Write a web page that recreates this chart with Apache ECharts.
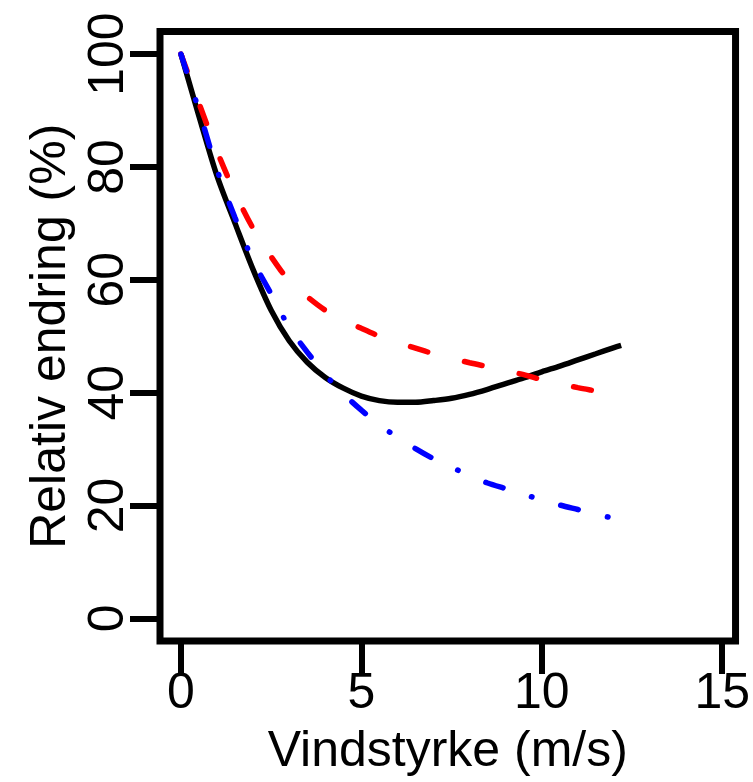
<!DOCTYPE html>
<html><head><meta charset="utf-8">
<script src="https://cdn.jsdelivr.net/npm/echarts@6/dist/echarts.min.js"></script>
<style>html,body{margin:0;padding:0;background:#fff}#c{width:753px;height:782px}</style>
</head><body><div id="c"></div>
<script>
// wind speed (m/s) and relative change (%)
const xBlack = [0,0.5,1,1.5,2,2.5,3,3.5,4,4.5,5,5.5,6,6.5,7,7.5,8,8.5,9,9.5,10,10.5,11,11.5,12,12.2];
const yBlack = [100,89,78.4,70,61.8,54.6,49.2,45.4,42.7,40.8,39.4,38.6,38.3,38.3,38.6,39.0,39.7,40.6,41.6,42.6,43.7,44.7,45.8,46.9,48.0,48.4];
const xRed = [0,0.5,1,1.5,2,2.5,3,3.5,4,4.5,5,5.5,6,6.5,7,7.5,8,8.5,9,9.5,10,10.5,11,11.5,12];
const yRed = [100,91.3,82.8,75.4,69.1,64.1,59.8,57.0,54.6,52.9,51.4,50.0,48.9,47.9,46.9,46.1,45.3,44.6,43.9,43.2,42.3,41.6,40.9,40.3,39.7];
const xBlue = [0,0.5,1,1.5,2,2.5,3,3.5,4,4.5,5,5.5,6,6.5,7,7.5,8,8.5,9,9.5,10,10.5,11,11.5,12];
const yBlue = [100,90.0,79.5,71.0,63.4,57.5,51.6,47.2,43.2,39.8,36.9,34.3,32.1,30.1,28.3,26.8,25.3,24.0,23.0,22.0,21.0,20.1,19.3,18.5,17.7];
const xTicks = [0,5,10,15];
const yTicks = [0,20,40,60,80,100];
const xTitle = 'Vindstyrke (m/s)';
const yTitle = 'Relativ endring (%)';

const zip = (xs, ys) => xs.map((x, i) => [x, ys[i]]);
const font = '"Liberation Sans", Arial, sans-serif';
const chart = echarts.init(document.getElementById('c'), null, {renderer: 'canvas'});
chart.setOption({
  animation: false,
  backgroundColor: '#fff',
  grid: {left: 160, right: 14, top: 31.5, bottom: 141, show: true, borderColor: '#000', borderWidth: 7, backgroundColor: 'transparent'},
  xAxis: {
    type: 'value', min: -0.58, max: 15.37,
    axisLine: {show: false, onZero: false},
    splitLine: {show: false},
    axisTick: {show: true, length: 33, lineStyle: {color: '#000', width: 6}, customValues: xTicks},
    axisLabel: {show: true, customValues: xTicks, color: '#000', fontFamily: font, fontSize: 50, margin: 28},
    name: xTitle, nameLocation: 'middle', nameGap: 86,
    nameTextStyle: {color: '#000', fontFamily: font, fontSize: 50}
  },
  yAxis: {
    type: 'value', min: -4, max: 104,
    axisLine: {show: false, onZero: false},
    splitLine: {show: false},
    axisTick: {show: true, length: 30, lineStyle: {color: '#000', width: 6}, customValues: yTicks},
    axisLabel: {show: true, customValues: yTicks, rotate: 90, color: '#000', fontFamily: font, fontSize: 50, margin: 26},
    name: yTitle, nameLocation: 'middle', nameGap: 82,
    nameTextStyle: {color: '#000', fontFamily: font, fontSize: 50}
  },
  series: [
    {type: 'line', data: zip(xBlack, yBlack), smooth: 0.3, showSymbol: false,
     lineStyle: {color: '#000', width: 5.5}},
    {type: 'line', data: zip(xRed, yRed), smooth: 0.3, showSymbol: false,
     lineStyle: {color: '#ff0000', width: 5.5, type: [18, 38], cap: 'round'}},
    {type: 'line', data: zip(xBlue, yBlue), smooth: 0.3, showSymbol: false,
     lineStyle: {color: '#0000ff', width: 5.5, type: [18, 30, 0.5, 30], cap: 'round'}}
  ]
});
</script></body></html>
